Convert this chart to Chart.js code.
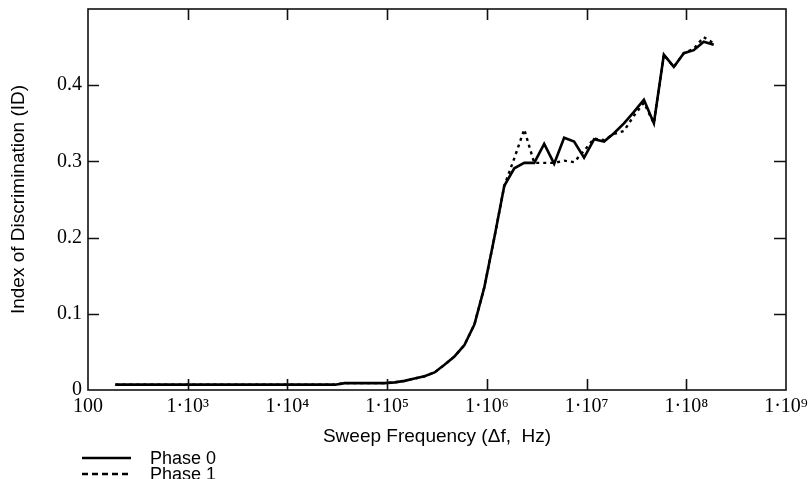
<!DOCTYPE html>
<html>
<head>
<meta charset="utf-8">
<script src="https://cdn.jsdelivr.net/npm/chart.js@4.4.0/dist/chart.umd.min.js"></script>
<style>
  html, body { margin: 0; padding: 0; background: #fff; }
</style>
</head>
<body>
<canvas id="chart-canvas" width="812" height="479"></canvas>
<script>
// sweep frequency (Hz)
const freqs = [
  188, 29900, 37600, 94400,
  118900, 149600, 188400, 237100, 298500, 375800, 473200, 595700, 749900, 944100,
  1.189e6, 1.496e6, 1.884e6, 2.371e6, 2.985e6, 3.758e6, 4.732e6, 5.957e6, 7.499e6, 9.441e6,
  1.189e7, 1.496e7, 1.884e7, 2.371e7, 2.985e7, 3.758e7, 4.732e7, 5.957e7, 7.499e7, 9.441e7,
  1.189e8, 1.496e8, 1.884e8
]

const phase0 = [
  0.007, 0.007, 0.009, 0.009,
  0.010, 0.012, 0.015, 0.018, 0.023, 0.033, 0.044, 0.059, 0.086, 0.135,
  0.200, 0.268, 0.291, 0.298, 0.298, 0.323, 0.297, 0.331, 0.326, 0.305,
  0.329, 0.326, 0.337, 0.350, 0.365, 0.381, 0.350, 0.440, 0.424, 0.442,
  0.446, 0.457, 0.453
]

const phase1 = [
  0.007, 0.007, 0.009, 0.009,
  0.010, 0.012, 0.015, 0.018, 0.023, 0.033, 0.044, 0.059, 0.086, 0.135,
  0.200, 0.268, 0.304, 0.342, 0.298, 0.298, 0.298, 0.301, 0.299, 0.314,
  0.330, 0.328, 0.336, 0.340, 0.360, 0.377, 0.350, 0.440, 0.424, 0.442,
  0.448, 0.463, 0.455
]

const xTicks = [100, 1e3, 1e4, 1e5, 1e6, 1e7, 1e8, 1e9]
const xTickLabels = ['100', '1·10³', '1·10⁴', '1·10⁵', '1·10⁶', '1·10⁷', '1·10⁸', '1·10⁹']
const yTicks = [0, 0.1, 0.2, 0.3, 0.4]
const yTickLabels = ['0', '0.1', '0.2', '0.3', '0.4']

const serif = "'Liberation Serif', 'DejaVu Serif', serif"
const sans = "'Liberation Sans', Arial, sans-serif"

// frame round the plot, with tick marks pointing inward on all four sides
const frameTicks = {
  id: 'frameTicks',
  afterDraw(chart) {
    const { ctx, chartArea: a, scales: { x, y } } = chart
    ctx.save()
    ctx.strokeStyle = '#111'
    ctx.lineWidth = 1.6
    ctx.strokeRect(a.left, a.top, a.right - a.left, a.bottom - a.top)
    ctx.beginPath()
    x.ticks.forEach(t => {
      const px = Math.round(x.getPixelForValue(t.value)) + 0.5
      if (px < a.left + 2 || px > a.right - 2) return
      ctx.moveTo(px, a.bottom); ctx.lineTo(px, a.bottom - 11)
      ctx.moveTo(px, a.top); ctx.lineTo(px, a.top + 11)
    })
    y.ticks.forEach(t => {
      const py = Math.round(y.getPixelForValue(t.value)) + 0.5
      if (py > a.bottom - 2 || py < a.top + 2) return
      ctx.moveTo(a.left, py); ctx.lineTo(a.left + 11, py)
      ctx.moveTo(a.right, py); ctx.lineTo(a.right - 12, py)
    })
    ctx.stroke()
    ctx.restore()
  }
}

// legend under the axis title, one row per dataset
const legendRows = {
  id: 'legendRows',
  afterDraw(chart) {
    const { ctx } = chart
    const dashes = [[], [6, 4]]
    ctx.save()
    ctx.font = '18px ' + sans
    ctx.fillStyle = '#000'
    ctx.textBaseline = 'alphabetic'
    chart.data.datasets.forEach((ds, i) => {
      const y = 458 + i * 16
      ctx.strokeStyle = ds.borderColor
      ctx.lineWidth = 2.5
      ctx.setLineDash(dashes[i])
      ctx.beginPath()
      ctx.moveTo(82, y)
      ctx.lineTo(131, y)
      ctx.stroke()
      ctx.fillText(ds.label, 150, y + 6)
    })
    ctx.restore()
  }
}

const toPoints = vals => freqs.map((f, i) => ({ x: f, y: vals[i] }))

const noPad = s => { s.paddingTop = 0; s.paddingBottom = 0; s.paddingLeft = 0; s.paddingRight = 0 }

new Chart(document.querySelector('#chart-canvas'), {
  type: 'line',
  data: {
    datasets: [
      {
        label: 'Phase 0',
        data: toPoints(phase0),
        borderColor: '#000',
        borderWidth: 2.6,
        pointRadius: 0,
        tension: 0
      },
      {
        label: 'Phase 1',
        data: toPoints(phase1),
        borderColor: '#000',
        borderWidth: 2.4,
        borderDash: [3, 4],
        pointRadius: 0,
        tension: 0
      }
    ]
  },
  options: {
    responsive: false,
    animation: false,
    devicePixelRatio: 1,
    layout: { padding: { top: 9, right: 26, bottom: 31, left: 0 } },
    plugins: {
      legend: { display: false },
      tooltip: { enabled: false }
    },
    scales: {
      x: {
        type: 'logarithmic',
        min: 100,
        max: 1e9,
        afterBuildTicks: s => { s.ticks = xTicks.map(v => ({ value: v })) },
        afterFit: s => { s.height = 58; noPad(s) },
        grid: { display: false, drawTicks: false },
        border: { display: false },
        ticks: {
          autoSkip: false,
          maxRotation: 0,
          padding: 5,
          color: '#000',
          font: { family: serif, size: 20 },
          callback: (v, i) => xTickLabels[i]
        },
        title: {
          display: true,
          text: 'Sweep Frequency (Δf,  Hz)',
          color: '#000',
          font: { family: sans, size: 19 },
          padding: { top: 0, bottom: 0 }
        }
      },
      y: {
        min: 0,
        max: 0.5,
        afterBuildTicks: s => { s.ticks = yTicks.map(v => ({ value: v })) },
        afterFit: s => { s.width = 88; noPad(s) },
        grid: { display: false, drawTicks: false },
        border: { display: false },
        ticks: {
          padding: 6,
          color: '#000',
          font: { family: serif, size: 20 },
          callback: (v, i) => yTickLabels[i]
        },
        title: {
          display: true,
          text: 'Index of Discrimination (ID)',
          color: '#000',
          font: { family: sans, size: 19 },
          padding: { top: 7, bottom: 0 }
        }
      }
    }
  },
  plugins: [frameTicks, legendRows]
})
</script>
</body>
</html>
